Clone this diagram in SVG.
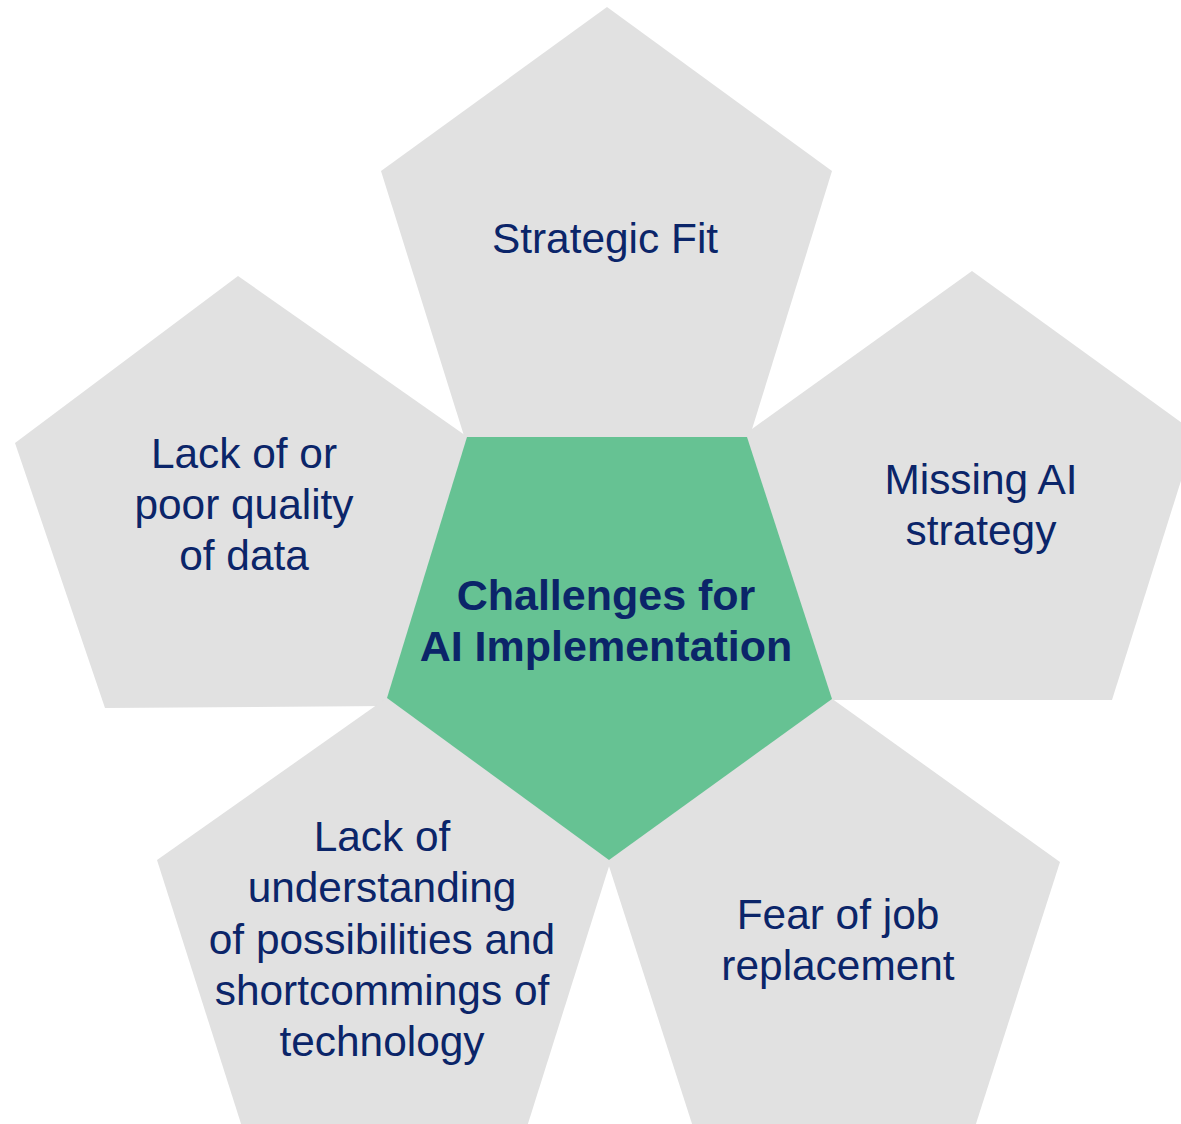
<svg xmlns="http://www.w3.org/2000/svg" width="1181" height="1124" viewBox="0 0 1181 1124">
<style>
.p{fill:#E1E1E1;stroke:none}
.c{fill:#66C293;stroke:none}
.t{font-family:"Liberation Sans",Arial,sans-serif;font-size:42.4px;fill:#0B2569;text-anchor:middle}
.b{font-weight:bold;font-size:43px}
</style>
<rect width="1181" height="1124" fill="#FFFFFF"/>
<g id="node-top">
<polygon class="p" points="607,7 832,171 749,439 465,439 381,171"/>
<text class="t" x="605" y="253">Strategic Fit</text>
</g>
<g id="node-right">
<polygon class="p" points="972,271 1196,433 1112,700 831,700 745,434"/>
<text class="t" x="981" y="494">Missing AI</text>
<text class="t" x="981" y="545">strategy</text>
</g>
<g id="node-left">
<polygon class="p" points="238,276 469,438 389,706 105,708 15,443"/>
<text class="t" x="244" y="468">Lack of or</text>
<text class="t" x="244" y="519">poor quality</text>
<text class="t" x="244" y="570">of data</text>
</g>
<g id="node-bottom-left">
<polygon class="p" points="388,697 611,860 526,1130 243,1130 157,860"/>
<text class="t" x="382" y="851">Lack of</text>
<text class="t" x="382" y="902">understanding</text>
<text class="t" x="382" y="954">of possibilities and</text>
<text class="t" x="382" y="1005">shortcommings of</text>
<text class="t" x="382" y="1056">technology</text>
</g>
<g id="node-bottom-right">
<polygon class="p" points="831,698 1060,862 974,1130 694,1130 607,860"/>
<text class="t" x="838" y="929">Fear of job</text>
<text class="t" x="838" y="980">replacement</text>
</g>
<g id="node-center">
<polygon class="c" points="467,437 747,437 832,699 609,860 387,698"/>
<text class="t b" x="606" y="610">Challenges for</text>
<text class="t b" x="606" y="661">AI Implementation</text>
</g>
<g id="connectors"></g>
</svg>
